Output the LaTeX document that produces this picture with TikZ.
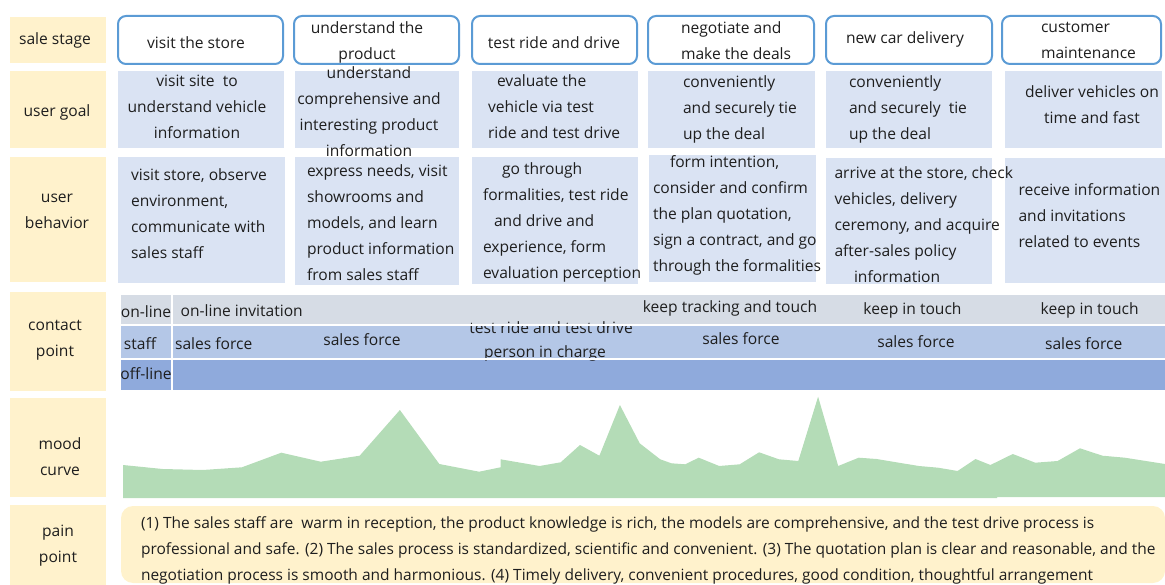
\documentclass[tikz,border=0pt]{standalone}
\usepackage{fontspec}
\setmainfont{Open Sans}
\usetikzlibrary{fit}

\definecolor{labfill}{RGB}{255,242,204}
\definecolor{goalfill}{RGB}{218,227,243}
\definecolor{stageblue}{RGB}{91,155,213}
\definecolor{onlinefill}{RGB}{214,220,229}
\definecolor{stafffill}{RGB}{180,199,231}
\definecolor{offlinefill}{RGB}{143,170,220}
\definecolor{moodgreen}{RGB}{180,220,183}
\definecolor{ink}{RGB}{30,30,30}

\begin{document}
\begin{tikzpicture}[x=1pt,y=-1pt,
  every node/.style={inner sep=0pt, outer sep=0pt},
  lab/.style={fill=labfill},
  stagebox/.style={draw=stageblue, line width=2pt, rounded corners=8pt, fill=white},
  goalbox/.style={fill=goalfill},
  onbar/.style={fill=onlinefill},
  staffbar/.style={fill=stafffill},
  offbar/.style={fill=offlinefill},
  txt/.style={font=\fontsize{15.6}{26}\selectfont, text=ink},
  ltxt/.style={txt, align=left, anchor=west},
  ctxt/.style={txt, align=center},
  paintxt/.style={font=\fontsize{15.5}{26}\selectfont, text=ink, align=left, anchor=west},
]
\useasboundingbox (0,0) rectangle (1165,585);

% ---------- row labels ----------
\node[lab, fit={(10,17)(106,63)}]   (lab1) {};
\node[lab, fit={(10,71)(106,148)}]  (lab2) {};
\node[lab, fit={(10,157)(106,282)}] (lab3) {};
\node[lab, fit={(10,292)(106,391)}] (lab4) {};
\node[lab, fit={(10,398)(106,497)}] (lab5) {};
\node[lab, fit={(10,505)(106,585)}] (lab6) {};
\node[txt]  (lab1t) at (55,40)    {sale stage};
\node[txt]  (lab2t) at (57,112.5) {user goal};
\node[ctxt] (lab3t) at (57,211)   {user\\behavior};
\node[ctxt] (lab4t) at (55,340.5) {contact\\point};
\node[ctxt] (lab5t) at (60,457)   {mood\\curve};
\node[ctxt] (lab6t) at (58,546)   {pain\\point};

% ---------- sale stages ----------
\node[stagebox, fit={(118,16)(283,64)}]  (s1) {};
\node[stagebox, fit={(294,16)(459,64)}]  (s2) {};
\node[stagebox, fit={(472,16)(637,64)}]  (s3) {};
\node[stagebox, fit={(648,16)(814,64)}]  (s4) {};
\node[stagebox, fit={(826,16)(992,64)}]  (s5) {};
\node[stagebox, fit={(1002,16)(1161,64)}] (s6) {};
\node[txt]  (s1t) at (196,42.5) {visit the store};
\node[ctxt] (s2t) at (367,42.5) {understand the\\product};
\node[txt]  (s3t) at (554,42.5) {test ride and drive};
\node[ltxt] (s4t) at (681,40.5) {negotiate and\\make the deals};
\node[txt]  (s5t) at (905,39.5) {new car delivery};
\node[ltxt] (s6t) at (1041,40.5) {customer\\maintenance};

% ---------- user goals ----------
\node[goalbox, fit={(118,71)(284,148)}]  (g1) {};
\node[goalbox, fit={(295,71)(459,148)}]  (g2) {};
\node[goalbox, fit={(472,71)(638,148)}]  (g3) {};
\node[goalbox, fit={(648,71)(815,148)}]  (g4) {};
\node[goalbox, fit={(826,71)(992,148)}]  (g5) {};
\node[goalbox, fit={(1005,71)(1162,148)}] (g6) {};
\node[ctxt] (g1t) at (197,107)   {visit site\ \ to\\understand vehicle\\information};
\node[ctxt] (g2t) at (369,112)   {understand\\comprehensive and\\interesting product\\information};
\node[ltxt] (g3t) at (488,107)   {\hspace{9pt}evaluate the\\vehicle via test\\ride and test drive};
\node[ltxt] (g4t) at (683,109.5) {conveniently\\and securely tie\\up the deal};
\node[ltxt] (g5t) at (849,109.5) {conveniently\\and securely\ \ tie\\up the deal};
\node[ctxt] (g6t) at (1092,104.5) {deliver vehicles on\\time and fast};

% ---------- user behaviour ----------
\node[goalbox, fit={(118,157)(285,283)}]  (b1) {};
\node[goalbox, fit={(295,157)(459,285)}]  (b2) {};
\node[goalbox, fit={(472,157)(638,284)}]  (b3) {};
\node[goalbox, fit={(649,155)(816,282)}]  (b4) {};
\node[goalbox, fit={(826,158)(992,284)}]  (b5) {};
\node[goalbox, fit={(1005,158)(1165,283)}] (b6) {};
\node[ltxt] (b1t) at (131,214)   {visit store, observe\\environment,\\communicate with\\sales staff};
\node[ltxt] (b2t) at (307,223)   {express needs, visit\\showrooms and\\models, and learn\\product information\\from sales staff};
\node[ltxt] (b3t) at (483,222)   {\hspace{19pt}go through\\formalities, test ride\\\hspace{11pt}and drive and\\experience, form\\evaluation perception};
\node[ltxt] (b4t) at (653,215.5) {\hspace{17pt}form intention,\\consider and confirm\\the plan quotation,\\sign a contract, and go\\through the formalities};
\node[ltxt] (b5t) at (834.5,224.5) {arrive at the store, check\\vehicles, delivery\\ceremony, and acquire\\after-sales policy\\\hspace{19.5pt}information};
\node[ltxt] (b6t) at (1018.5,215.5) {receive information\\and invitations\\related to events};

% ---------- contact points ----------
\node[onbar,    fit={(120.5,295)(171,324)}]     (conlab)  {};
\node[onbar,    fit={(173,295)(1165,324)}]      (con)     {};
\node[staffbar, fit={(120.5,326.2)(171,357.8)}] (cstlab) {};
\node[staffbar, fit={(173,326.2)(1165,357.8)}]  (cst)    {};
\node[offbar,   fit={(120.5,359.8)(171,389.5)}] (cofflab) {};
\node[offbar,   fit={(173,359.8)(1165,389.5)}]  (coff)   {};
\node[txt] (conlabt)  at (146,311.5) {on-line};
\node[txt] (cstlabt)  at (140,343.5) {staff};
\node[txt] (cofflabt) at (146,374)   {off-line};

\node[ltxt] (on1) at (180.6,311) {on-line invitation};
\node[txt]  (st1) at (213.7,343.3) {sales force};
\node[txt]  (st2) at (362,340)   {sales force};
\node[txt]  (st3a) at (551,327.5)  {test ride and test drive};
\node[txt]  (st3b) at (545,353.5) {person in charge};
\node[txt]  (on4) at (730,308)   {keep tracking and touch};
\node[txt]  (st4) at (741,339)   {sales force};
\node[txt]  (on5) at (912.5,310) {keep in touch};
\node[txt]  (st5) at (916,341.7) {sales force};
\node[txt]  (on6) at (1089.7,310) {keep in touch};
\node[txt]  (st6) at (1083.7,344) {sales force};
% thin gaps between the channel bars run over the labels that straddle them
\draw[white, line width=2pt] (465,325.1) -- (1165,325.1);
\draw[white, line width=2pt] (465,358.8) -- (1165,358.8);

% ---------- mood curve ----------
\fill[moodgreen]
  (123,498) -- (123,465) -- (162.6,469) -- (202.8,470) -- (241.9,467.3)
  -- (281.3,452.7) -- (320.7,461.7) -- (359.7,455.7) -- (399.9,410)
  -- (439.3,464) -- (479.1,471.7) -- (500.6,467.3) -- (500.6,459.3)
  -- (539.6,466) -- (560.7,462.3) -- (580,445) -- (599.4,455.7)
  -- (619.9,405) -- (639.7,443.3) -- (660.2,459.3) -- (671.4,463.3)
  -- (685.2,464.3) -- (698.7,457.7) -- (719.2,466) -- (739.7,464.3)
  -- (759.1,452.3) -- (778.9,459.3) -- (798.3,461) -- (818.1,396.7)
  -- (838.2,466) -- (858.7,457.7) -- (876.6,459) -- (918.8,466)
  -- (938.2,467.7) -- (957.6,471) -- (975.5,459) -- (990.4,465)
  -- (1012.8,454) -- (1035.2,462.7) -- (1057.6,461) -- (1080,448.3)
  -- (1102.4,455.7) -- (1124.8,457.7) -- (1165,464)
  -- (1165,497) -- (997,497) -- (997,498) -- cycle;

% ---------- pain points ----------
\node[fill=labfill, rounded corners=12pt, fit={(121,506)(1165,583)}] (pain) {};
\node[paintxt] (paint) at (141,550) {(1) The sales staff are\ \ warm in reception, the product knowledge is rich, the models are comprehensive, and the test drive process is\\professional and safe. (2) The sales process is standardized, scientific and convenient. (3) The quotation plan is clear and reasonable, and the\\negotiation process is smooth and harmonious. (4) Timely delivery, convenient procedures, good condition, thoughtful arrangement};
\end{tikzpicture}
\end{document}
